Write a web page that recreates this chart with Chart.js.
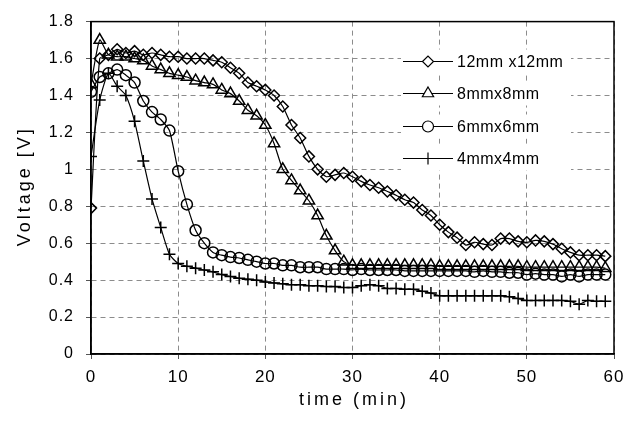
<!DOCTYPE html>
<html lang="en">
<head>
  <meta charset="UTF-8" />
  <title>Voltage vs time</title>
  <style>
    html, body { margin: 0; padding: 0; background: #fff; }
    #box { width: 644px; height: 424px; }
  </style>
</head>
<body>
  <div id="box"><canvas id="grafico" width="644" height="424"></canvas></div>
  <script src="https://cdn.jsdelivr.net/npm/chart.js@4.4.0/dist/chart.umd.min.js"></script>
  <script>
    // time in minutes, one reading per minute
    const minutes = [0, 1, 2, 3, 4, 5, 6, 7, 8, 9, 10, 11, 12, 13, 14, 15, 16, 17, 18, 19,
      20, 21, 22, 23, 24, 25, 26, 27, 28, 29, 30, 31, 32, 33, 34, 35, 36, 37, 38, 39,
      40, 41, 42, 43, 44, 45, 46, 47, 48, 49, 50, 51, 52, 53, 54, 55, 56, 57, 58, 59];

    const seriesNames = ['12mm x12mm', '8mmx8mm', '6mmx6mm', '4mmx4mm'];

    const v12mm = [0.79, 1.60, 1.62, 1.65, 1.63, 1.64, 1.62, 1.63, 1.62, 1.61,
      1.61, 1.60, 1.60, 1.60, 1.59, 1.58, 1.55, 1.52, 1.47, 1.45,
      1.43, 1.40, 1.34, 1.24, 1.17, 1.07, 1.00, 0.96, 0.97, 0.98,
      0.96, 0.935, 0.915, 0.90, 0.88, 0.86, 0.835, 0.82, 0.78, 0.75,
      0.70, 0.66, 0.63, 0.59, 0.605, 0.595, 0.59, 0.625, 0.625, 0.61,
      0.605, 0.615, 0.61, 0.595, 0.57, 0.55, 0.535, 0.535, 0.535, 0.53];

    const v8mm = [1.46, 1.70, 1.62, 1.61, 1.61, 1.60, 1.59, 1.56, 1.54, 1.52,
      1.51, 1.50, 1.48, 1.47, 1.46, 1.43, 1.41, 1.37, 1.32, 1.29,
      1.24, 1.14, 1.00, 0.94, 0.885, 0.83, 0.75, 0.64, 0.56, 0.50,
      0.48, 0.48, 0.48, 0.48, 0.48, 0.48, 0.48, 0.48, 0.48, 0.48,
      0.475, 0.475, 0.475, 0.475, 0.475, 0.475, 0.475, 0.475, 0.475, 0.475,
      0.47, 0.47, 0.47, 0.47, 0.47, 0.47, 0.47, 0.47, 0.47, 0.465];

    const v6mm = [1.42, 1.50, 1.52, 1.54, 1.51, 1.47, 1.37, 1.31, 1.27, 1.21,
      0.99, 0.81, 0.67, 0.60, 0.55, 0.535, 0.525, 0.52, 0.51, 0.50,
      0.49, 0.49, 0.48, 0.48, 0.47, 0.47, 0.47, 0.46, 0.46, 0.46,
      0.455, 0.46, 0.455, 0.455, 0.455, 0.455, 0.45, 0.45, 0.45, 0.45,
      0.45, 0.45, 0.45, 0.45, 0.445, 0.45, 0.445, 0.445, 0.44, 0.44,
      0.43, 0.435, 0.43, 0.43, 0.42, 0.43, 0.42, 0.43, 0.43, 0.43];

    const v4mm = [1.07, 1.375, 1.52, 1.45, 1.40, 1.26, 1.045, 0.84, 0.685, 0.54,
      0.49, 0.475, 0.465, 0.455, 0.445, 0.43, 0.42, 0.41, 0.405, 0.40,
      0.39, 0.385, 0.38, 0.375, 0.375, 0.37, 0.37, 0.365, 0.365, 0.36,
      0.36, 0.37, 0.375, 0.37, 0.355, 0.355, 0.35, 0.35, 0.34, 0.33,
      0.315, 0.315, 0.315, 0.315, 0.315, 0.315, 0.315, 0.315, 0.31, 0.30,
      0.29, 0.29, 0.29, 0.29, 0.29, 0.285, 0.27, 0.29, 0.285, 0.285];

    const xTicks = ['0', '10', '20', '30', '40', '50', '60'];
    const yTicks = ['0', '0.2', '0.4', '0.6', '0.8', '1', '1.2', '1.4', '1.6', '1.8'];
    const xTitle = 'time (min)';
    const yTitle = 'Voltage [V]';

    const fonte = '"Liberation Sans", Arial, sans-serif';

    function pontos(valores) {
      return valores.map((v, i) => ({ x: minutes[i], y: v }));
    }

    function serie(nome, valores, estilo, raio) {
      return {
        label: nome,
        data: pontos(valores),
        borderColor: '#000',
        borderWidth: 1.2,
        backgroundColor: '#fff',
        pointStyle: estilo,
        pointRadius: raio,
        pointBorderWidth: 1.5,
        pointBorderColor: '#000',
        pointBackgroundColor: 'rgba(255,255,255,0)',
        tension: 0.2,
        fill: false
      };
    }

    // slightly spaced lettering for the tick labels, like the original
    const espacamento = {
      id: 'espacamento',
      beforeDraw(chart) {
        chart.ctx.letterSpacing = '1px';
      }
    };

    // frame around the plot area + the two axis titles
    const moldura = {
      id: 'moldura',
      afterDraw(chart) {
        const { ctx, chartArea: a } = chart;
        ctx.save();
        ctx.setLineDash([]);
        ctx.strokeStyle = '#000';
        ctx.lineWidth = 1.5;
        ctx.strokeRect(a.left, a.top, a.right - a.left, a.bottom - a.top);

        ctx.letterSpacing = '3px';
        ctx.font = '18px ' + fonte;
        ctx.fillStyle = '#000';
        ctx.textAlign = 'center';
        ctx.textBaseline = 'middle';
        ctx.fillText(xTitle, (a.left + a.right) / 2 + 1.5, chart.height - 24);
        ctx.translate(25, (a.top + a.bottom) / 2);
        ctx.rotate(-Math.PI / 2);
        ctx.fillText(yTitle, 1.5, 0);
        ctx.restore();
      }
    };

    // legend drawn inside the plot, upper right
    const legendaInterna = {
      id: 'legendaInterna',
      afterDatasetsDraw(chart) {
        const ctx = chart.ctx;
        const x0 = 403, x1 = 453, yTop = 60.5, passo = 32.5;
        ctx.save();
        ctx.setLineDash([]);
        chart.data.datasets.forEach((ds, i) => {
          const y = Math.round(yTop + i * passo) + 0.5;
          ctx.fillStyle = '#fff';
          ctx.fillRect(x0 - 2, y - 12, 170, 24);
          ctx.strokeStyle = '#000';
          ctx.lineWidth = 1.2;
          ctx.beginPath();
          ctx.moveTo(x0, y);
          ctx.lineTo(x1, y);
          ctx.stroke();
          ctx.fillStyle = '#fff';
          Chart.helpers.drawPoint(ctx, {
            pointStyle: ds.pointStyle,
            radius: ds.pointRadius,
            borderWidth: 1.5,
            rotation: 0
          }, (x0 + x1) / 2, y);
          ctx.fillStyle = '#000';
          ctx.letterSpacing = '0.5px';
          ctx.font = '16px ' + fonte;
          ctx.textAlign = 'left';
          ctx.textBaseline = 'middle';
          ctx.fillText(ds.label, x1 + 4, y + 1);
        });
        ctx.restore();
      }
    };

    const gradeX = { color: '#8c8c8c', lineWidth: 1, tickLength: 5, tickColor: '#555' };
    const gradeY = { color: '#8c8c8c', lineWidth: 1, tickLength: 5, tickColor: '#555' };

    new Chart(document.getElementById('grafico'), {
      type: 'line',
      data: {
        datasets: [
          serie(seriesNames[0], v12mm, 'rectRot', 5.5),
          serie(seriesNames[1], v8mm, 'triangle', 6.5),
          serie(seriesNames[2], v6mm, 'circle', 5.5),
          serie(seriesNames[3], v4mm, 'cross', 6)
        ]
      },
      options: {
        responsive: false,
        animation: false,
        layout: { padding: { top: 15, right: 30, left: 0, bottom: 0 } },
        plugins: {
          legend: { display: false },
          tooltip: { enabled: false }
        },
        scales: {
          x: {
            type: 'linear',
            min: 0,
            max: 60,
            afterFit: (s) => { s.height = 70; },
            ticks: {
              stepSize: 10,
              color: '#000',
              padding: 8,
              font: { family: fonte, size: 17 },
              callback: (v, i) => xTicks[i]
            },
            grid: gradeX,
            border: { display: true, color: '#000', width: 1.5, dash: [5, 4] },
            title: { display: false }
          },
          y: {
            min: 0,
            max: 1.8,
            afterFit: (s) => { s.width = 91; },
            ticks: {
              stepSize: 0.2,
              color: '#000',
              padding: 12,
              font: { family: fonte, size: 16 },
              callback: (v, i) => yTicks[i]
            },
            grid: gradeY,
            border: { display: true, color: '#000', width: 1.5, dash: [5, 4] },
            title: { display: false }
          }
        }
      },
      plugins: [espacamento, moldura, legendaInterna]
    });
  </script>
</body>
</html>
